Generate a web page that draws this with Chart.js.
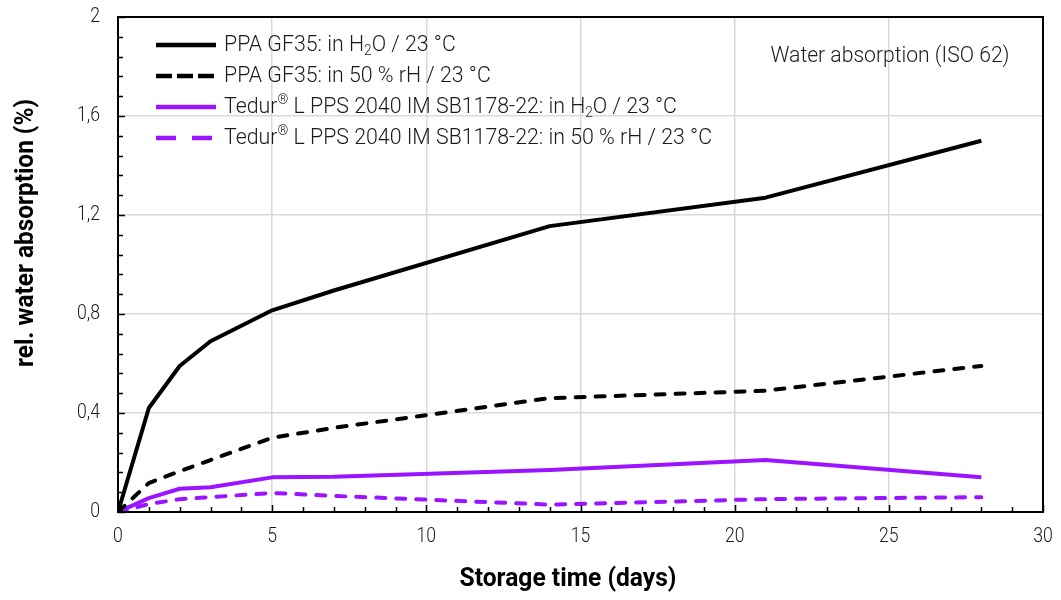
<!DOCTYPE html>
<html>
<head>
<meta charset="utf-8">
<script src="https://cdn.jsdelivr.net/npm/chart.js@4/dist/chart.umd.min.js"></script>
<style>
  html, body { margin: 0; padding: 0; background: #fff; }
  #wrap { width: 1061px; height: 600px; }
</style>
</head>
<body>
<div id="wrap"><canvas id="chart"></canvas></div>
<script>
const FONT = '"Roboto", sans-serif';
const PURPLE = '#9a14ff';
const INK = '#1a1a1a';
const NARROW = 0.84; // horizontal squeeze to mimic a condensed face

// storage days
const days = [0, 1, 2, 3, 5, 7, 14, 21, 28];
// relative water absorption (%)
const ppaWater = [0, 0.42, 0.59, 0.69, 0.815, 0.895, 1.155, 1.27, 1.5];
const ppaHumid = [0, 0.117, 0.165, 0.21, 0.30, 0.34, 0.46, 0.49, 0.59];
const tedurWater = [0, 0.056, 0.094, 0.10, 0.14, 0.142, 0.17, 0.21, 0.14];
const tedurHumid = [0, 0.032, 0.052, 0.06, 0.077, 0.065, 0.03, 0.052, 0.06];

const labels = [
  'PPA GF35: in H\u2082O / 23 °C',
  'PPA GF35: in 50 % rH / 23 °C',
  'Tedur\u00AE L PPS 2040 IM SB1178-22: in H\u2082O / 23 °C',
  'Tedur\u00AE L PPS 2040 IM SB1178-22: in 50 % rH / 23 °C'
];

const xTicks = [0, 5, 10, 15, 20, 25, 30];
const yTicks = [0, 0.4, 0.8, 1.2, 1.6, 2];
const xTitle = 'Storage time (days)';
const yTitle = 'rel. water absorption (%)';
const note = 'Water absorption (ISO 62)';

function toPoints(values) {
  return days.map((d, i) => ({x: d, y: values[i]}));
}

function makeSet(label, values, color, dashed) {
  return {
    label: label,
    data: toPoints(values),
    borderColor: color,
    backgroundColor: color,
    borderWidth: 4,
    borderDash: dashed ? [9, 11] : [],
    borderCapStyle: dashed ? 'round' : 'butt',
    borderJoinStyle: 'round',
    pointRadius: 0,
    tension: 0,
    fill: false
  };
}

function fmt(v) {
  return String(Math.round(v * 10) / 10).replace('.', ',');
}

// squeezed text; fitWidth (optional) sets the exact drawn width
function drawText(ctx, text, x, y, font, align, rotate, fitWidth) {
  ctx.save();
  ctx.font = font;
  ctx.textAlign = align;
  ctx.textBaseline = 'middle';
  ctx.translate(x, y);
  if (rotate) ctx.rotate(-Math.PI / 2);
  const sx = fitWidth ? fitWidth / ctx.measureText(text).width : NARROW;
  ctx.scale(sx, 1);
  ctx.fillText(text, 0, 0);
  ctx.restore();
}

// split legend text into runs, with small lowered "2" and raised "®"
function richParts(ctx, text, size) {
  const base = '300 ' + size + 'px ' + FONT;
  const small = '300 ' + Math.round(size * 0.62) + 'px ' + FONT;
  const parts = [];
  let buf = '';
  for (const ch of text) {
    if (ch === '\u2082' || ch === '\u00AE') {
      if (buf) parts.push({t: buf, f: base, dy: 0});
      buf = '';
      parts.push(ch === '\u2082'
        ? {t: '2', f: small, dy: 6}
        : {t: '\u00AE', f: small, dy: -7});
    } else {
      buf += ch;
    }
  }
  if (buf) parts.push({t: buf, f: base, dy: 0});
  parts.width = 0;
  parts.forEach(p => { ctx.font = p.f; p.w = ctx.measureText(p.t).width; parts.width += p.w; });
  return parts;
}

function drawParts(ctx, parts, x, y, sx) {
  ctx.save();
  ctx.translate(x, y);
  ctx.scale(sx, 1);
  ctx.textBaseline = 'middle';
  ctx.textAlign = 'left';
  let cx = 0;
  parts.forEach(p => {
    ctx.font = p.f;
    ctx.fillText(p.t, cx, p.dy);
    cx += p.w;
  });
  ctx.restore();
}

// inner tick marks, frame, tick labels, titles, legend and note
const decorPlugin = {
  id: 'decor',
  afterDraw(chart) {
    const ctx = chart.ctx;
    const a = chart.chartArea;
    const xs = chart.scales.x;
    const ys = chart.scales.y;
    ctx.save();
    ctx.strokeStyle = '#000';
    ctx.lineWidth = 1.5;
    ctx.beginPath();
    for (let d = 0; d <= 30; d++) {
      const px = Math.round(xs.getPixelForValue(d)) + 0.5;
      const len = d % 5 === 0 ? 7 : 5;
      ctx.moveTo(px, a.bottom);
      ctx.lineTo(px, a.bottom - len);
    }
    for (let k = 0; k <= 25; k++) {
      const py = Math.round(ys.getPixelForValue(k * 0.08)) + 0.5;
      const len = k % 5 === 0 ? 7 : 5;
      ctx.moveTo(a.left, py);
      ctx.lineTo(a.left + len, py);
    }
    ctx.stroke();

    ctx.lineWidth = 2;
    ctx.strokeRect(a.left, a.top, a.right - a.left, a.bottom - a.top);

    ctx.fillStyle = INK;
    const tickFont = '300 21px ' + FONT;
    xTicks.forEach(v => drawText(ctx, fmt(v), xs.getPixelForValue(v), a.bottom + 25, tickFont, 'center'));
    yTicks.forEach(v => drawText(ctx, fmt(v), a.left - 18, ys.getPixelForValue(v), tickFont, 'right'));

    ctx.fillStyle = '#000';
    drawText(ctx, xTitle, 568, 580, 'bold 25px ' + FONT, 'center', false, 217);
    drawText(ctx, yTitle, 27, 233, 'bold 25px ' + FONT, 'center', true, 268);

    // legend; all rows share the squeeze that makes the longest row fit
    const dashes = [[], [16, 5], [], [20, 16]];
    const rows = chart.data.datasets.map(ds => richParts(ctx, ds.label, 22));
    const sx = 488 / rows[3].width;
    chart.data.datasets.forEach((ds, i) => {
      const y = 45 + i * 31;
      ctx.strokeStyle = ds.borderColor;
      ctx.lineWidth = 4.5;
      ctx.lineCap = 'butt';
      ctx.setLineDash(dashes[i]);
      ctx.beginPath();
      ctx.moveTo(156, y);
      ctx.lineTo(216, y);
      ctx.stroke();
      ctx.setLineDash([]);
      ctx.fillStyle = INK;
      drawParts(ctx, rows[i], 224, y, sx);
    });

    ctx.fillStyle = INK;
    drawText(ctx, note, 890, 56, '300 22px ' + FONT, 'center', false, 239);
    ctx.restore();
  }
};

new Chart(document.getElementById('chart'), {
  type: 'line',
  data: {
    datasets: [
      makeSet(labels[0], ppaWater, '#000', false),
      makeSet(labels[1], ppaHumid, '#000', true),
      makeSet(labels[2], tedurWater, PURPLE, false),
      makeSet(labels[3], tedurHumid, PURPLE, true)
    ]
  },
  options: {
    responsive: true,
    maintainAspectRatio: false,
    animation: false,
    layout: {padding: {top: 17, right: 18, left: 0, bottom: 0}},
    plugins: {legend: {display: false}, tooltip: {enabled: false}},
    scales: {
      x: {
        type: 'linear',
        min: 0,
        max: 30,
        afterBuildTicks: s => { s.ticks = xTicks.map(v => ({value: v})); },
        afterFit: s => { s.height = 88; s.paddingLeft = 0; s.paddingRight = 0; },
        grid: {color: '#d9d9d9', lineWidth: 1.5, drawTicks: false},
        border: {display: false},
        ticks: {display: false}
      },
      y: {
        min: 0,
        max: 2,
        afterBuildTicks: s => { s.ticks = yTicks.map(v => ({value: v})); },
        afterFit: s => { s.width = 118; s.paddingTop = 0; s.paddingBottom = 0; },
        grid: {color: '#d9d9d9', lineWidth: 1.5, drawTicks: false},
        border: {display: false},
        ticks: {display: false}
      }
    }
  },
  plugins: [decorPlugin]
});
</script>
</body>
</html>
